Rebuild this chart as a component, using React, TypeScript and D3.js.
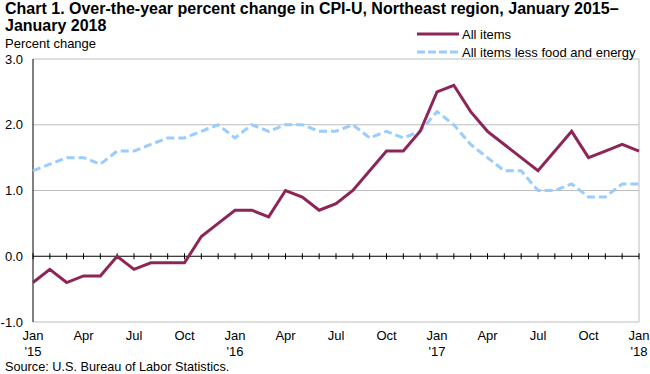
import React from 'react';
import * as d3 from 'd3';

const months: string[] = d3.range(37).map(i => `${2015 + Math.floor(i / 12)}-${String((i % 12) + 1).padStart(2, '0')}`);

const allItems = [
  -0.4, -0.2, -0.4, -0.3, -0.3, 0.0, -0.2, -0.1, -0.1, -0.1, 0.3, 0.5,
  0.7, 0.7, 0.6, 1.0, 0.9, 0.7, 0.8, 1.0, 1.3, 1.6, 1.6, 1.9,
  2.5, 2.6, 2.2, 1.9, 1.7, 1.5, 1.3, 1.6, 1.9, 1.5, 1.6, 1.7,
  1.6,
];

const lessFoodEnergy = [
  1.3, 1.4, 1.5, 1.5, 1.4, 1.6, 1.6, 1.7, 1.8, 1.8, 1.9, 2.0,
  1.8, 2.0, 1.9, 2.0, 2.0, 1.9, 1.9, 2.0, 1.8, 1.9, 1.8, 1.9,
  2.2, 2.0, 1.7, 1.5, 1.3, 1.3, 1.0, 1.0, 1.1, 0.9, 0.9, 1.1,
  1.1,
];

const yTicks = [-1, 0, 1, 2, 3];
const monthNames = ['Jan', 'Apr', 'Jul', 'Oct'];

const width = 650;
const height = 374;
const margin = { left: 33, right: 11, top: 59, bottom: 52 };
const font = 'Arial, "Liberation Sans", sans-serif';

export default function App() {
  const x = d3.scaleLinear().domain([0, months.length - 1]).range([margin.left, width - margin.right]);
  const y = d3.scaleLinear().domain([-1, 3]).range([height - margin.bottom, margin.top]);

  const line = d3
    .line<number>()
    .x((_, i) => x(i))
    .y(d => y(d));

  const labelIdx = d3.range(0, months.length, 3);

  return (
    <svg
      width={width}
      height={height}
      style={{ position: 'absolute', left: 0, top: 0, fontFamily: font }}
    >
      <rect width={width} height={height} fill="#fff" />
      <text x={5} y={14} fontSize={16} fontWeight="bold" fill="#000">
        Chart 1. Over-the-year percent change in CPI-U, Northeast region, January 2015–
      </text>
      <text x={5} y={31} fontSize={16} fontWeight="bold" fill="#000">
        January 2018
      </text>
      <text x={5} y={48} fontSize={13} fill="#000">
        Percent change
      </text>

      {yTicks
        .filter(t => t !== 0)
        .map(t => (
          <line key={t} x1={margin.left} x2={width - margin.right} y1={y(t)} y2={y(t)} stroke="#bdbdbd" strokeWidth={1} />
        ))}
      <line
        x1={width - margin.right}
        x2={width - margin.right}
        y1={y(3)}
        y2={y(-1)}
        stroke="#bdbdbd"
      />
      <line x1={margin.left} x2={margin.left} y1={y(3)} y2={y(-1)} stroke="#000" />
      <line x1={margin.left} x2={width - margin.right} y1={y(0)} y2={y(0)} stroke="#000" />
      {months.map((m, i) => (
        <line key={m} x1={x(i)} x2={x(i)} y1={y(0) - 3} y2={y(0) + 3} stroke="#000" />
      ))}

      {yTicks.map(t => (
        <text key={t} x={23} y={y(t) + 4.5} fontSize={13} textAnchor="end" fill="#000">
          {t.toFixed(1)}
        </text>
      ))}

      {labelIdx.map(i => (
        <g key={i}>
          <text x={x(i)} y={height - margin.bottom + 18} fontSize={13} textAnchor="middle" fill="#000">
            {monthNames[(i % 12) / 3]}
          </text>
          {i % 12 === 0 && (
            <text x={x(i)} y={height - margin.bottom + 34} fontSize={13} textAnchor="middle" fill="#000">
              {`'${String(15 + i / 12)}`}
            </text>
          )}
        </g>
      ))}

      <path
        d={line(lessFoodEnergy) ?? ''}
        fill="none"
        stroke="#99ccff"
        strokeWidth={3}
        strokeDasharray="8,4"
      />
      <path d={line(allItems) ?? ''} fill="none" stroke="#8e2557" strokeWidth={3} strokeLinejoin="miter" />

      <line x1={417} x2={459} y1={34} y2={34} stroke="#8e2557" strokeWidth={3} />
      <text x={462} y={38.5} fontSize={13} fill="#000">
        All items
      </text>
      <line x1={417} x2={459} y1={52} y2={52} stroke="#99ccff" strokeWidth={3} strokeDasharray="8,3" />
      <text x={462} y={56.5} fontSize={13} fill="#000">
        All items less food and energy
      </text>

      <text x={5} y={371} fontSize={12.7} fill="#000">
        Source: U.S. Bureau of Labor Statistics.
      </text>
    </svg>
  );
}
